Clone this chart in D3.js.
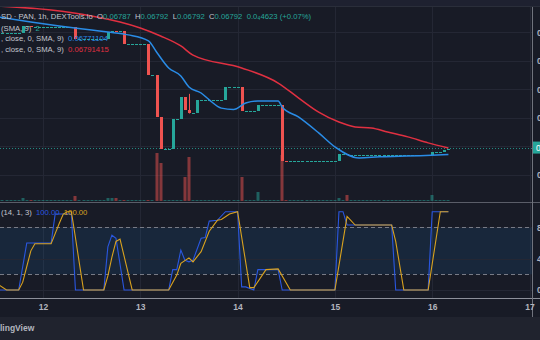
<!DOCTYPE html>
<html><head><meta charset="utf-8">
<script src="https://cdn.jsdelivr.net/npm/d3@7"></script>
<style>html,body{margin:0;padding:0;background:#181b26;overflow:hidden}svg{display:block}</style>
</head><body><svg id="c" width="540" height="340"></svg>
<script>
// ---------- data ----------
const dayLabels = ["12", "13", "14", "15", "16", "17"];
const dayHours = [0, 24, 48, 72, 96, 120];          // hours since day 12 00:00
const priceTicks = [0.072, 0.071, 0.070, 0.069, 0.068, 0.067];
const stochTicks = [80, 40, 0];
const stochBands = [80, 20];

const firstHour = -11;          // hourly candles from hour -11 to hour 100
const firstOpen = 0.07198;
const closes = [
  0.07198, 0.07198, 0.07198, 0.07198, 0.07198, 0.07198,           // -11..-6
  0.07222, 0.07222, 0.07220,                                       // -5..-3
  0.07220, 0.07220, 0.07220, 0.07220, 0.07220, 0.07220, 0.07220, 0.07220, 0.07220, 0.07220, // -2..7
  0.07176, 0.07176, 0.07176, 0.07176, 0.07176, 0.07176, 0.07176, 0.07176, // 8..15
  0.07201, 0.07206, 0.07203, 0.07203,                              // 16..19
  0.07159, 0.07159, 0.07159, 0.07159, 0.07159, 0.07159,           // 20..25
  0.07050, 0.07050, 0.06903, 0.06790, 0.06790, 0.06790,           // 26..31
  0.06896, 0.06896, 0.06973, 0.06927, 0.06918, 0.06918,           // 32..37
  0.06962, 0.06962, 0.06962, 0.06962, 0.06962, 0.06962, 0.06962,  // 38..44
  0.07008, 0.07008, 0.07008, 0.07008,                              // 45..48
  0.06924, 0.06924, 0.06924, 0.06924,                              // 49..52
  0.06945, 0.06945, 0.06945, 0.06945, 0.06945, 0.06945,           // 53..58
  0.06749, 0.06747,                                                // 59..60
  0.06747, 0.06747, 0.06747, 0.06747, 0.06747, 0.06747, 0.06747, 0.06747, 0.06747, 0.06747, 0.06747, 0.06747, // 61..72
  0.06773, 0.06773, 0.06770,                                       // 73..75
  0.06770, 0.06770, 0.06770, 0.06770, 0.06770, 0.06770, 0.06770, 0.06770, 0.06770, 0.06770,
  0.06770, 0.06770, 0.06770, 0.06770, 0.06770, 0.06770, 0.06770, 0.06770, 0.06770, 0.06770, // 76..95
  0.06780, 0.06780, 0.06780, 0.06787, 0.06792                      // 96..100
];
const volumes = [
  0, 0, 0, 0, 0, 0,  300, 0, 100,  0, 0, 0, 0, 0, 0, 0, 0, 0, 0,
  500, 0, 0, 0, 0, 0, 0, 0,
  300, 300, 300, 0,
  100, 0, 0, 0, 0, 0,
  100, 0, 4800, 3800, 0, 0,
  0, 0, 0, 2400, 4400, 0,
  100, 0, 0, 0, 0, 0, 0,
  100, 0, 0, 0,
  2400, 0, 0, 0,
  900, 0, 0, 0, 0, 0,
  4600, 100,
  0, 0, 0, 0, 0, 0, 0, 0, 0, 0, 0, 0,
  300, 0, 600,
  0, 0, 0, 0, 0, 0, 0, 0, 0, 0,
  0, 0, 0, 0, 0, 0, 0, 0, 0, 0,
  600, 0, 0, 100, 100
];
const wickHours = [36];
const wickHighs = [0.06984];
const wickLows = [0.06915];

// legend readouts as printed on the chart
const headerLabels = ["O", "H", "L", "C"];
const headerValues = [0.06787, 0.06792, 0.06792, 0.06792];
const headerChange = "0.0₄4623 (+0.07%)";
const volSmaValue = "2";
const maLegendValues = [0.06771104, 0.06791415];
const stochLegendValues = [100.00, 100.00];

// MA lines
const smaFastHours = [-11, -3, 4, 12, 16, 21, 26, 28, 31, 34, 36, 39, 41, 44, 47, 50, 53, 58, 59, 63, 68, 72, 78, 83, 88, 93, 100];
const smaFast = [0.07254, 0.07236, 0.07222, 0.07208, 0.07201, 0.07191, 0.07170, 0.07131, 0.07075, 0.07047, 0.07008, 0.06987, 0.06963, 0.06934, 0.06929, 0.06952, 0.06959, 0.06959, 0.06938, 0.06903, 0.06847, 0.06798, 0.06759, 0.06763, 0.06765, 0.06767, 0.06771];
const smaSlowHours = [-11, 2, 12, 19, 24, 29, 34, 37, 49, 58, 63, 68, 73, 77, 81, 85, 90, 95, 100];
const smaSlow = [0.07292, 0.07278, 0.07257, 0.07236, 0.07215, 0.07187, 0.07152, 0.07120, 0.07075, 0.07022, 0.06970, 0.06920, 0.06885, 0.06868, 0.06864, 0.06850, 0.06833, 0.06812, 0.06794];

// Stochastic
const kHours = [-11, -6, -4, 2, 3, 7, 8, 15, 16, 17, 18, 20, 31, 32, 33, 34, 35, 36, 37, 39, 40, 41, 43, 45, 48, 49, 50, 52, 53, 58, 59, 72, 73, 74, 75, 86, 87, 95, 96, 100];
const kValues = [0, 0, 60, 60, 97, 97, 0, 0, 55, 70, 66, 0, 0, 26, 26, 51, 38, 36, 38, 66, 67, 88, 89, 100, 100, 4, 4, 0, 26, 26, 0, 0, 100, 100, 83, 83, 0, 0, 100, 100];
const dHours = [-11, -9, -6, -5, -4, -3, -2, 2, 3, 4, 5, 6, 7, 8, 9, 10, 15, 16, 17, 18, 19, 22, 31, 33, 34, 36, 37, 39, 41, 43, 44, 46, 48, 51, 52, 55, 58, 61, 72, 75, 77, 86, 87, 89, 95, 98, 100];
const dValues = [7, 0, 0, 10, 30, 50, 59, 59, 72, 85, 97, 100, 100, 67, 33, 0, 0, 18, 42, 62, 65, 0, 0, 19, 34, 41, 36, 49, 75, 89, 90, 97, 100, 3, 3, 26, 27, 0, 0, 94, 83, 83, 62, 0, 0, 100, 100];

// ---------- drawing ----------
const W = 540, H = 340, PLOT_R = 532;
const UP = "#26a69a", DOWN = "#ef5350";
const BLUE_MA = "#2a8ce6", RED_MA = "#e03041", K_COL = "#2a57e0", D_COL = "#d9a21f";
const FONT = "'Liberation Sans', Arial, sans-serif";
const svg = d3.select("#c");

const x = d3.scaleLinear().domain([0, 120]).range([43, 529.5]);
const yP = d3.scaleLinear().domain([0.067, 0.072]).range([174.8, 32.3]);
const yV = d3.scaleLinear().domain([0, 10000]).range([201, 101]);
const yS = d3.scaleLinear().domain([0, 100]).range([290, 211.7]);

// backgrounds
svg.append("rect").attr("width", W).attr("height", H).attr("fill", "#181b26");
svg.append("rect").attr("width", W).attr("height", 6).attr("fill", "#1e2130");
svg.append("line").attr("x1", 0).attr("x2", W).attr("y1", 6.5).attr("y2", 6.5).attr("stroke", "#2a2e3a");
svg.append("rect").attr("y", 317).attr("width", W).attr("height", 23).attr("fill", "#20232e");

const defs = svg.append("defs");
defs.append("clipPath").attr("id", "cm").append("rect").attr("x", 0).attr("y", 7).attr("width", PLOT_R).attr("height", 195);
defs.append("clipPath").attr("id", "cs").append("rect").attr("x", 0).attr("y", 203).attr("width", PLOT_R).attr("height", 95);

const gridC = "#242734";
svg.append("g").selectAll("line").data(dayHours).join("line")
  .attr("x1", d => Math.round(x(d)) + 0.5).attr("x2", d => Math.round(x(d)) + 0.5)
  .attr("y1", 7).attr("y2", 298).attr("stroke", gridC);
svg.append("g").selectAll("line").data(priceTicks).join("line")
  .attr("x1", 0).attr("x2", PLOT_R).attr("y1", d => Math.round(yP(d)) + 0.5).attr("y2", d => Math.round(yP(d)) + 0.5)
  .attr("stroke", gridC);

// ---------- main pane ----------
const main = svg.append("g").attr("clip-path", "url(#cm)");
const hours = d3.range(firstHour, firstHour + closes.length);
const candles = hours.map((h, i) => {
  const o = i === 0 ? firstOpen : closes[i - 1];
  const c = closes[i];
  const wi = wickHours.indexOf(h);
  return {h, o, c, hi: wi >= 0 ? wickHighs[wi] : Math.max(o, c), lo: wi >= 0 ? wickLows[wi] : Math.min(o, c), v: volumes[i]};
});

main.append("g").selectAll("rect").data(candles).join("rect")
  .attr("x", d => Math.round(x(d.h)) - 1.5).attr("width", 3)
  .attr("y", d => d.v > 0 ? yV(d.v) : 200).attr("height", d => d.v > 0 ? yV(0) - yV(d.v) : 1)
  .attr("fill", d => d.c < d.o ? "rgba(239,83,80,0.5)" : "rgba(38,166,154,0.5)");

const last = candles[candles.length - 1];
main.append("line").attr("x1", 0).attr("x2", PLOT_R)
  .attr("y1", Math.round(yP(last.c)) - 0.5).attr("y2", Math.round(yP(last.c)) - 0.5)
  .attr("stroke", UP).attr("stroke-dasharray", "1,2").attr("opacity", 0.8);

main.append("g").selectAll("line").data(candles.filter(d => d.hi > Math.max(d.o, d.c) || d.lo < Math.min(d.o, d.c))).join("line")
  .attr("x1", d => Math.round(x(d.h)) + 0.5).attr("x2", d => Math.round(x(d.h)) + 0.5)
  .attr("y1", d => yP(d.hi)).attr("y2", d => yP(d.lo))
  .attr("stroke", d => d.c < d.o ? DOWN : UP);
main.append("g").selectAll("rect").data(candles).join("rect")
  .attr("shape-rendering", "crispEdges")
  .attr("x", d => Math.round(x(d.h)) - 1).attr("width", 3)
  .attr("y", d => Math.min(yP(d.o), yP(d.c)))
  .attr("height", d => Math.max(1, Math.abs(yP(d.o) - yP(d.c))))
  .attr("fill", d => d.c < d.o ? DOWN : UP);

const lineP = (hs, vs) => d3.line().x(i => x(hs[i])).y(i => yP(vs[i])).curve(d3.curveMonotoneX)(d3.range(hs.length));
main.append("path").attr("d", lineP(smaSlowHours, smaSlow)).attr("fill", "none").attr("stroke", RED_MA).attr("stroke-width", 1.5);
main.append("path").attr("d", lineP(smaFastHours, smaFast)).attr("fill", "none").attr("stroke", BLUE_MA).attr("stroke-width", 1.5);

// ---------- stochastic pane ----------
const st = svg.append("g").attr("clip-path", "url(#cs)");
st.append("rect").attr("x", 0).attr("width", PLOT_R).attr("y", yS(stochBands[0])).attr("height", yS(stochBands[1]) - yS(stochBands[0]))
  .attr("fill", "rgba(33,150,243,0.1)");
st.selectAll("line.g").data(stochTicks).join("line").attr("class", "g")
  .attr("x1", 0).attr("x2", PLOT_R).attr("y1", d => Math.round(yS(d)) + 0.5).attr("y2", d => Math.round(yS(d)) + 0.5)
  .attr("stroke", gridC);
st.selectAll("line.b").data(stochBands).join("line").attr("class", "b")
  .attr("x1", 0).attr("x2", PLOT_R).attr("y1", d => Math.round(yS(d)) + 0.5).attr("y2", d => Math.round(yS(d)) + 0.5)
  .attr("stroke", "#787b86").attr("stroke-dasharray", "4,3");
const lineS = (hs, vs) => d3.line().x(i => x(hs[i])).y(i => yS(vs[i]))(d3.range(hs.length));
st.append("path").attr("d", lineS(kHours, kValues)).attr("fill", "none").attr("stroke", K_COL).attr("stroke-width", 1.1);
st.append("path").attr("d", lineS(dHours, dValues)).attr("fill", "none").attr("stroke", D_COL).attr("stroke-width", 1.1);

// ---------- frame lines ----------
svg.append("line").attr("x1", 0).attr("x2", W).attr("y1", 202.5).attr("y2", 202.5).attr("stroke", "#5a5d68");
svg.append("line").attr("x1", 0).attr("x2", W).attr("y1", 298.5).attr("y2", 298.5).attr("stroke", "#8d909a");
svg.append("line").attr("x1", PLOT_R + 0.5).attr("x2", PLOT_R + 0.5).attr("y1", 7).attr("y2", 317).attr("stroke", "#70737d");

// ---------- axes ----------
const axisStyle = g => {
  g.select(".domain").remove();
  g.selectAll("text").attr("fill", "#b2b5be").attr("font-family", FONT).attr("font-size", 8.5).attr("font-weight", "bold");
};
svg.append("g").attr("transform", "translate(0,298)")
  .call(d3.axisBottom(x).tickValues(dayHours).tickFormat((d, i) => dayLabels[i]).tickSize(0).tickPadding(6))
  .call(axisStyle);
// price labels (the one hidden by the last-price tag is skipped, as on the chart)
svg.append("g").attr("transform", `translate(${PLOT_R},0)`)
  .call(d3.axisRight(yP).tickValues(priceTicks.filter(p => Math.abs(yP(p) - yP(last.c)) > 8))
    .tickFormat(d3.format(".4f")).tickSize(0).tickPadding(5))
  .call(axisStyle);
svg.append("g").attr("transform", `translate(${PLOT_R},0)`)
  .call(d3.axisRight(yS).tickValues(stochTicks).tickSize(0).tickPadding(5))
  .call(axisStyle);
svg.append("rect").attr("x", PLOT_R + 1).attr("y", yP(last.c) - 7).attr("width", 12).attr("height", 12).attr("fill", UP);
svg.append("text").attr("x", PLOT_R + 4).attr("y", yP(last.c) + 2).attr("fill", "#fff")
  .attr("font-family", FONT).attr("font-size", 8.5).text(d3.format(".5f")(last.c));

// ---------- legends ----------
const LG = "#c3c6ce";
function legend(y, parts) {
  const t = svg.append("text").attr("x", 1).attr("y", y).attr("font-family", FONT).attr("font-size", 7.7).attr("xml:space", "preserve");
  parts.forEach(p => t.append("tspan").attr("fill", p[1]).text(p[0]));
}
const f5 = d3.format(".5f"), f8 = d3.format(".8f"), f2 = d3.format(".2f");
const head = [["SD · PAN, 1h, DEXTools.io  ", LG]];
headerLabels.forEach((l, i) => { head.push([l, LG]); head.push([f5(headerValues[i]) + "  ", UP]); });
head.push([headerChange, UP]);
legend(19, head);
legend(31, [["(SMA, 9)  ", LG], [volSmaValue, UP]]);
legend(41, [[", close, 0, SMA, 9)  ", LG], [f8(maLegendValues[0]), BLUE_MA]]);
legend(52, [[", close, 0, SMA, 9)  ", LG], [f8(maLegendValues[1]), RED_MA]]);
legend(215, [["(14, 1, 3)  ", LG], [f2(stochLegendValues[0]) + "  ", K_COL], [f2(stochLegendValues[1]), D_COL]]);
svg.append("text").attr("x", 0).attr("y", 331).attr("fill", "#b2b5be").attr("font-family", FONT)
  .attr("font-size", 8.5).attr("font-weight", "bold").text("lingView");
</script></body></html>
